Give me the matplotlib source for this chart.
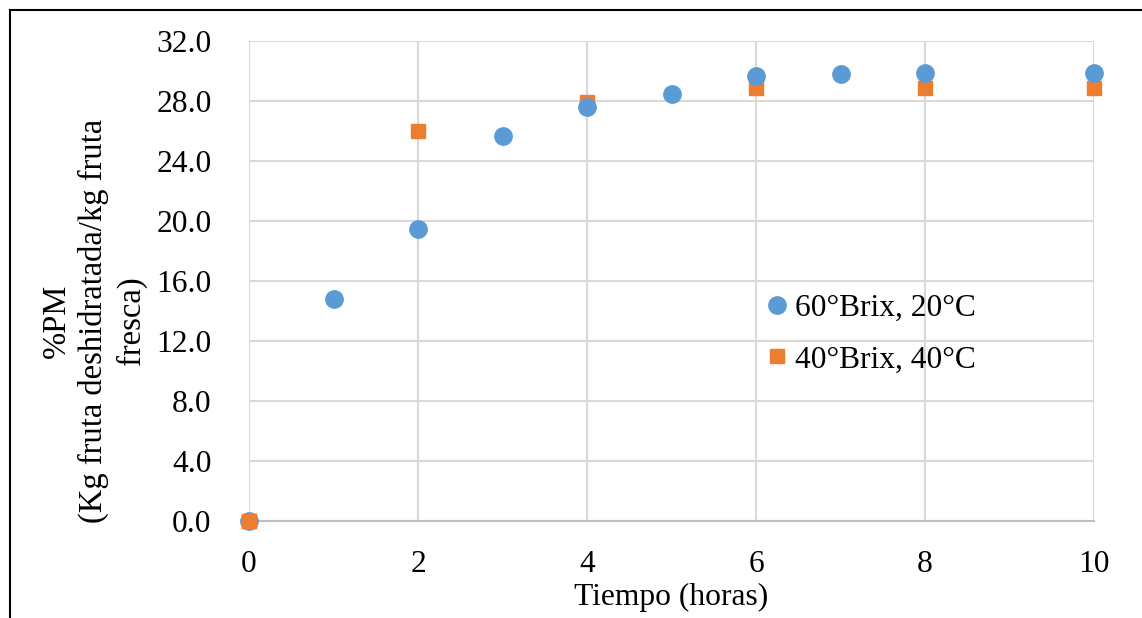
import matplotlib
matplotlib.use("Agg")
import matplotlib.pyplot as plt
from matplotlib.lines import Line2D

plt.rcParams['font.family'] = ['Liberation Serif', 'DejaVu Serif']

# Data
t_60 = [0, 1, 2, 3, 4, 5, 6, 7, 8, 10]
pm_60 = [0.0, 14.8, 19.5, 25.65, 27.6, 28.5, 29.7, 29.8, 29.85, 29.9]
t_40 = [0, 2, 4, 6, 8, 10]
pm_40 = [0.0, 26.0, 27.95, 28.85, 28.85, 28.9]
label_60 = "60°Brix, 20°C"
label_40 = "40°Brix, 40°C"
x_ticks = [0, 2, 4, 6, 8, 10]
y_ticks = [0, 4, 8, 12, 16, 20, 24, 28, 32]

FS = 22.7
W, H = 1142, 618
fig = plt.figure(figsize=(W / 100, H / 100), dpi=100)
ax = fig.add_axes([249 / W, 1 - 521 / H, (1094 - 249) / W, (521 - 41) / H])

ax.plot(t_40, pm_40, linestyle='none', marker='s', markersize=10.5,
        color='#ED7D31', label=label_40, zorder=3, clip_on=False)
ax.plot(t_60, pm_60, linestyle='none', marker='o', markersize=12.5,
        color='#5B9BD5', label=label_60, zorder=4, clip_on=False)
# orange at origin drawn on top as in reference
ax.plot(t_40[:1], pm_40[:1], linestyle='none', marker='s', markersize=10.5,
        color='#ED7D31', zorder=5, clip_on=False)

ax.set_xlim(0, 10)
ax.set_ylim(0, 32)
ax.set_xticks(x_ticks)
ax.set_yticks(y_ticks)
ax.set_yticklabels([f"{v:.1f}" for v in y_ticks])
ax.tick_params(axis='both', length=0, labelsize=FS)
ax.tick_params(axis='y', pad=27)
ax.tick_params(axis='x', pad=21)
ax.grid(True, color='#d9d9d9', linewidth=1.5)
ax.set_axisbelow(True)
for s in ['top', 'right', 'left']:
    ax.spines[s].set_visible(False)
ax.spines['bottom'].set_color('#bfbfbf')
ax.spines['bottom'].set_linewidth(1.5)

ax.set_xlabel("Tiempo (horas)", fontsize=FS, labelpad=3)
fig.text(94 / W, 1 - 321 / H, "%PM\n(Kg fruta deshidratada/kg fruta\nfresca)",
         rotation=90, ha='center', va='center', fontsize=23.5, linespacing=1.25,
         multialignment='center')

handles = [Line2D([], [], linestyle='none', marker='o', markersize=12.5, color='#5B9BD5'),
           Line2D([], [], linestyle='none', marker='s', markersize=10.5, color='#ED7D31')]
fig.legend(handles, [label_60, label_40], loc='center left',
           bbox_to_anchor=(752 / W, 1 - 334 / H), frameon=False, fontsize=FS,
           handlelength=0.6, handletextpad=0.25, labelspacing=0.72, borderpad=0)

# outer border (partially cropped in reference)
fig.add_artist(Line2D([9.5 / W, 9.5 / W], [0, 1 - 9.5 / H], color='black', linewidth=1.5,
                      transform=fig.transFigure))
fig.add_artist(Line2D([9.5 / W, 1], [1 - 9.5 / H, 1 - 9.5 / H], color='black', linewidth=1.5,
                      transform=fig.transFigure))

fig.savefig("out.png", dpi=100)
